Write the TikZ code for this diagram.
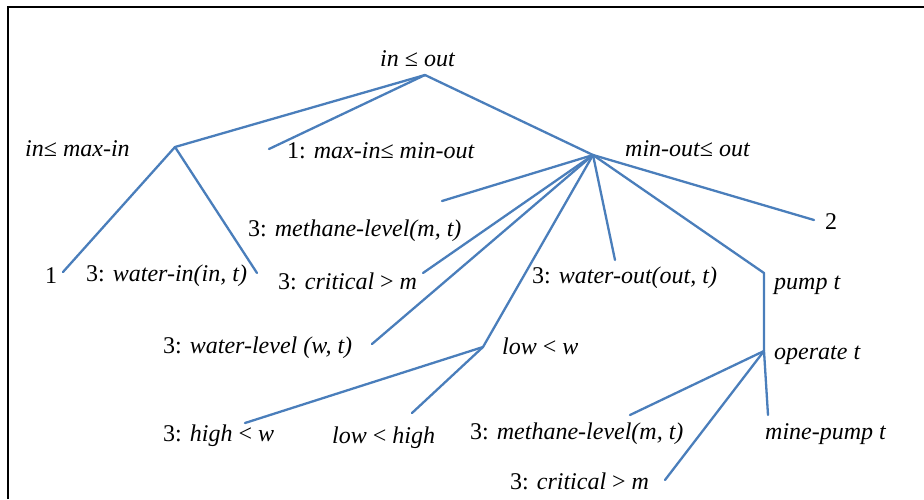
\documentclass[tikz,border=0pt]{standalone}
\usepackage{fontspec}
\setmainfont{Liberation Serif}
\begin{document}
\begin{tikzpicture}[x=1pt,y=-1pt,
  lbl/.style={anchor=west,inner sep=0pt,yshift=-4pt,font=\fontsize{24}{28}\selectfont\itshape,text height=0.72em,text depth=0.22em},
  br/.style={draw={rgb,255:red,74;green,126;blue,187},line width=2.3pt,line cap=round,line join=round}]
\useasboundingbox (0,0) rectangle (924,499);
\draw[line width=2pt] (8,499) -- (8,6.5) -- (924,6.5);
% labels
\node[lbl] (t0) at (380,60) {in {\upshape≤} out};
\node[lbl] (t1) at (25,150) {in{\upshape≤} max-in};
\node[lbl] (t2) at (287,152) {\upshape 1: \itshape max-in{\upshape≤} min-out};
\node[lbl] (t3) at (625,150) {min-out{\upshape≤} out};
\node[lbl] (t4) at (248,230) {\upshape 3: \itshape methane-level(m, t)};
\node[lbl] (t5) at (825,223) {\upshape 2};
\node[lbl] (t6) at (45,277) {\upshape 1};
\node[lbl] (t7) at (86,275) {\upshape 3: \itshape water-in(in, t)};
\node[lbl] (t8) at (278,283) {\upshape 3: \itshape critical {\upshape >} m};
\node[lbl] (t9) at (532,277) {\upshape 3: \itshape water-out(out, t)};
\node[lbl] (t10) at (774,283) {pump t};
\node[lbl] (t11) at (163,347) {\upshape 3: \itshape water-level (w, t)};
\node[lbl] (t12) at (502,348) {low {\upshape <} w};
\node[lbl] (t13) at (774,353) {operate t};
\node[lbl] (t14) at (163,435) {\upshape 3: \itshape high {\upshape <} w};
\node[lbl] (t15) at (332,437) {low {\upshape <} high};
\node[lbl] (t16) at (470,433) {\upshape 3: \itshape methane-level(m, t)};
\node[lbl] (t17) at (765,433) {mine-pump t};
\node[lbl] (t18) at (510,483) {\upshape 3: \itshape critical {\upshape >} m};
% vertices and line ends
\coordinate (r) at (425,75);
\coordinate (a) at (175,147);
\coordinate (b) at (593,155);
\coordinate (c) at (483,347);
\coordinate (p) at (764,273);
\coordinate (o) at (764,351);
\coordinate (e1) at (269,149);
\coordinate (eone) at (63,272);
\coordinate (ewin) at (257,273);
\coordinate (em1) at (442,201);
\coordinate (ec1) at (423,273);
\coordinate (ewl) at (372,344);
\coordinate (ewo) at (615,260);
\coordinate (etwo) at (814,220);
\coordinate (ehw) at (245,423);
\coordinate (elh) at (412,413);
\coordinate (em2) at (630,415);
\coordinate (ec2) at (665,480);
\coordinate (emp) at (768,415);
% edges
\draw[br] (r) -- (a);
\draw[br] (r) -- (e1);
\draw[br] (r) -- (b);
\draw[br] (a) -- (eone);
\draw[br] (a) -- (ewin);
\draw[br] (b) -- (em1);
\draw[br] (b) -- (ec1);
\draw[br] (b) -- (ewl);
\draw[br] (b) -- (c);
\draw[br] (b) -- (ewo);
\draw[br] (b) -- (p) -- (o);
\draw[br] (b) -- (etwo);
\draw[br] (c) -- (ehw);
\draw[br] (c) -- (elh);
\draw[br] (o) -- (em2);
\draw[br] (o) -- (ec2);
\draw[br] (o) -- (emp);
\end{tikzpicture}
\end{document}
